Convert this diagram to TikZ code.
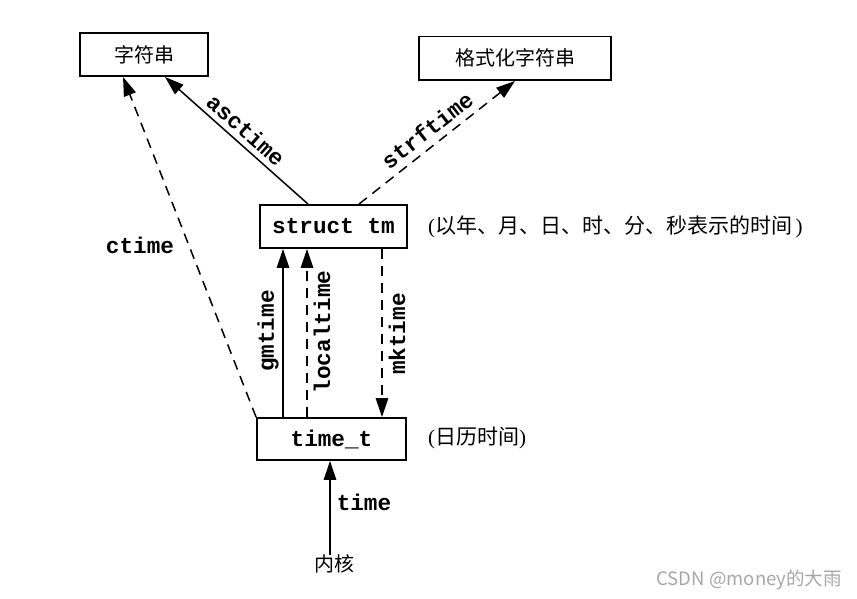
\documentclass[tikz,border=0pt]{standalone}
\usepackage{fontspec}
\setmainfont{Liberation Serif}
\newfontfamily\codefont{Liberation Mono}
\newfontfamily\cjk{Noto Sans CJK SC}
\usetikzlibrary{arrows.meta}
\tikzset{
  box/.style={draw, line width=1.9pt, inner sep=0pt, minimum height=43pt},
  code/.style={font=\codefont\bfseries\fontsize{22.7}{24}\selectfont, inner sep=0pt},
  zh/.style={font=\cjk\fontsize{20}{22}\selectfont, inner sep=0pt},
  zhnote/.style={font=\cjk\fontsize{21}{23}\selectfont, inner sep=0pt},
  conn/.style={line width=1.5pt, -{Triangle[length=19pt,width=12.5pt]}},
  dsh/.style={dash pattern=on 10pt off 7pt}
}
\begin{document}
\begin{tikzpicture}[x=1pt,y=-1pt]
\useasboundingbox (0,0) rectangle (857,599);
% boxes
\node[box, zh, minimum width=128pt, minimum height=43pt] (s1) at (144,54.5) {字符串};
\node[box, zh, minimum width=192pt, minimum height=43.5pt] (s2) at (515,58.3) {格式化字符串};
\node[box, code, minimum width=147pt, minimum height=43pt] (tm) at (333.5,226.5) {struct tm};
\node[box, code, minimum width=149pt, minimum height=42pt] (tt) at (331.5,439) {time\_t};
\node[zh] (kern) at (334,564) {内核};
% annotations
\node[zhnote, anchor=west] (atm) at (428,226.5) {{\rmfamily(}以年、月、日、时、分、秒表示的时间\,{\rmfamily)}};
\node[zhnote, anchor=west] (att) at (428,437.5) {{\rmfamily(}日历时间{\rmfamily)}};
% x positions
\coordinate (xa1) at (308,0);
\coordinate (xa2) at (165,0);
\coordinate (xs1) at (359,0);
\coordinate (xs2) at (515,0);
\coordinate (xc) at (123,0);
\coordinate (xg) at (283,0);
\coordinate (xl) at (307,0);
\coordinate (xm) at (382,0);
\coordinate (xt) at (330,0);
% connectors
\draw[conn] (tm.north -| xa1) -- (s1.south -| xa2);
\draw[conn, dsh] (tm.north -| xs1) -- (s2.south -| xs2);
\draw[conn, dsh] (tt.north west) -- (s1.south -| xc);
\draw[conn] (tt.north -| xg) -- (tm.south -| xg);
\draw[conn, dsh] (tt.north -| xl) -- (tm.south -| xl);
\draw[conn, dsh] (tm.south -| xm) -- (tt.north -| xm);
\draw[conn] (kern.north -| xt) -- (tt.south -| xt);
% labels
\node[code, rotate=-41.5] (lasc) at (246,130) {asctime};
\node[code, rotate=38] (lstr) at (427,130) {strftime};
\node[code] (lct) at (140,245) {ctime};
\node[code, rotate=90] (lgm) at (268,331) {gmtime};
\node[code, rotate=90] (llo) at (322,332) {localtime};
\node[code, rotate=90] (lmk) at (397,334) {mktime};
\node[code] (ltime) at (364,502) {time};
% watermark
\node[font=\cjk\fontsize{18.5}{20}\selectfont, text=black!35, anchor=east, inner sep=0pt] (wm) at (842,580) {CSDN @money的大雨};
\end{tikzpicture}
\end{document}
